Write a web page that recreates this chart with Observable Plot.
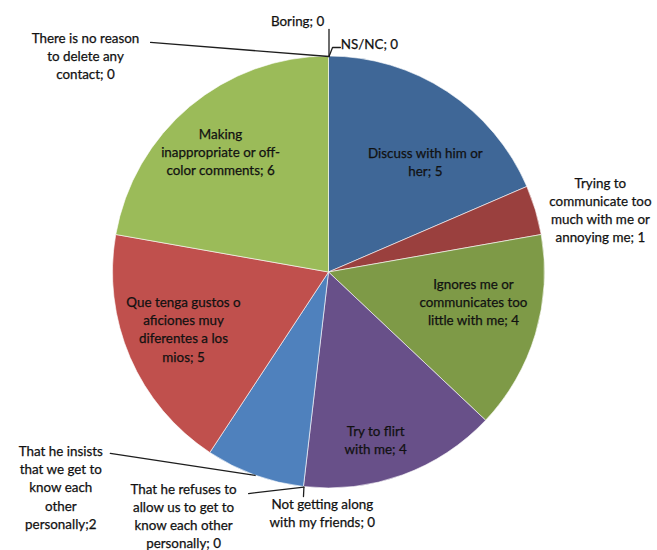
<!DOCTYPE html>
<html><head><meta charset="utf-8">
<script src="https://cdn.jsdelivr.net/npm/d3@7"></script>
<script src="https://cdn.jsdelivr.net/npm/@observablehq/plot@0.6"></script>
<style>html,body{margin:0;background:#fff} svg{display:block}</style>
</head><body><div id="chart"></div>
<script>
// ---- data (pie order, clockwise from 12 o'clock) ----
const categories = [
  "NS/NC",
  "Discuss with him or her",
  "Trying to communicate too much with me or annoying me",
  "Ignores me or communicates too little with me",
  "Try to flirt with me",
  "Not getting along with my friends",
  "That he refuses to allow us to get to know each other personally",
  "That he insists that we get to know each other personally",
  "Que tenga gustos o aficiones muy diferentes a los mios",
  "Making inappropriate or off-color comments",
  "There is no reason to delete any contact",
  "Boring"
];
const values = [0, 5, 1, 4, 4, 0, 0, 2, 5, 6, 0, 0];
const labelLines = [
  "NS/NC; 0",
  "Discuss with him or\nher; 5",
  "Trying to\ncommunicate too\nmuch with me or\nannoying me; 1",
  "Ignores me or\ncommunicates too\nlittle with me; 4",
  "Try to flirt\nwith me; 4",
  "Not getting along\nwith my friends; 0",
  "That he refuses to\nallow us to get to\nknow each other\npersonally; 0",
  "That he insists\nthat we get to\nknow each\nother\npersonally;2",
  "Que tenga gustos o\naficiones muy\ndiferentes a los\nmios; 5",
  "Making\ninappropriate or off-\ncolor comments; 6",
  "There is no reason\nto delete any\ncontact; 0",
  "Boring; 0"
];
const sliceColors = ["#4F81BD", "#3F6797", "#9A403E", "#7E9A47", "#685089", "#4BACC6",
                     "#F79646", "#4F81BD", "#C0504D", "#9BBB59", "#8064A2", "#4BACC6"];

// label placement: polar (degrees clockwise from top, radius in pie radii)
const labelAngle  = [10.0, 41.0, 76.9, 101.3, 164.4, 181.6, 210.9, 231.4, 248.9, 318.1, 311.7, 352.9];
const labelRadius = [1.077, 0.68, 1.29, 0.682, 0.803, 1.111, 1.311, 1.589, 0.722, 0.752, 1.51, 1.176];
// leader lines: from slice edge (mid angle) to these polar points
const leaderPoints = [
  [[0.9, 1.042], [2.9, 1.043]],
  [], [], [], [],
  [[186.5, 1.044]],
  [[200.0, 1.089]],
  [[230.4, 1.314]],
  [], [],
  [[322.2, 1.348]],
  [[0.0, 1.125]]
];

// ---- build ----
const rad = Math.PI / 180;
const rows = categories.map((name, i) => ({name, value: values[i], label: labelLines[i], color: sliceColors[i],
  la: labelAngle[i], lr: labelRadius[i], leader: leaderPoints[i]}));
const arcs = d3.pie().sort(null).value(d => d.value).startAngle(0).endAngle(2 * Math.PI)(rows);

const leaders = [];
arcs.forEach(a => {
  if (!a.data.leader.length) return;
  const mid = (a.startAngle + a.endAngle) / 2;
  leaders.push({name: a.data.name, x: Math.sin(mid), y: Math.cos(mid)});
  a.data.leader.forEach(([ang, r]) => leaders.push({name: a.data.name, x: r * Math.sin(ang * rad), y: r * Math.cos(ang * rad)}));
});

function slices(index, scales) {
  const cx = scales.x(0), cy = scales.y(0), r = scales.x(1) - scales.x(0);
  const arc = d3.arc().innerRadius(0).outerRadius(r);
  const g = d3.create("svg:g").attr("transform", `translate(${cx},${cy})`);
  g.selectAll("path").data(arcs.filter(a => a.value > 0)).join("path")
    .attr("d", arc).attr("fill", d => d.data.color)
    .attr("stroke", "#ffffff").attr("stroke-width", 0.6);
  return g.node();
}

const chart = Plot.plot({
  width: 657, height: 550,
  margin: 0,
  x: {domain: [-1.5208, 1.5208], axis: null},
  y: {domain: [-1.287, 1.2593], axis: null},
  style: {fontFamily: "Lato, 'Open Sans', sans-serif", background: "#fff"},
  marks: [
    slices,
    Plot.line(leaders, {x: "x", y: "y", z: "name", stroke: "#1e1e1e", strokeWidth: 1.3}),
    Plot.text(rows, {
      x: d => d.lr * Math.sin(d.la * rad),
      y: d => d.lr * Math.cos(d.la * rad),
      text: "label", fontSize: 13.4, lineHeight: 1.35, fill: "#111", stroke: "#111", strokeWidth: 0.25,
      textAnchor: "middle"
    })
  ]
});
document.getElementById("chart").appendChild(chart);
</script>
</body></html>
